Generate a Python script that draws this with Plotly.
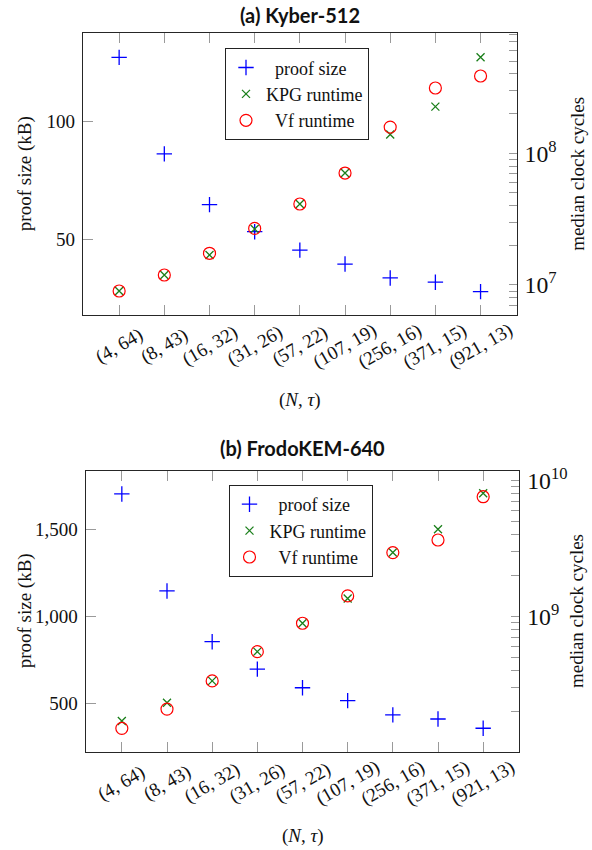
import plotly.graph_objects as go

# ---- data ----
categories = ["(4, 64)", "(8, 43)", "(16, 32)", "(31, 26)", "(57, 22)",
              "(107, 19)", "(256, 16)", "(371, 15)", "(921, 13)"]

kyber_proof_kb = [127.0, 86.1, 64.6, 53.1, 45.3, 39.4, 33.5, 31.7, 27.7]
kyber_kpg_cycles = [9.0e6, 1.19e7, 1.69e7, 2.66e7, 4.12e7, 7.08e7, 1.39e8, 2.26e8, 5.36e8]
kyber_vf_cycles = [9.0e6, 1.19e7, 1.74e7, 2.69e7, 4.12e7, 7.08e7, 1.58e8, 3.13e8, 3.86e8]

frodo_proof_kb = [1704, 1146, 854, 696, 589, 515, 433, 409, 356]
frodo_kpg_cycles = [1.71e8, 2.33e8, 3.37e8, 5.53e8, 8.94e8, 1.36e9, 2.96e9, 4.39e9, 8.07e9]
frodo_vf_cycles = [1.51e8, 2.09e8, 3.37e8, 5.53e8, 8.94e8, 1.42e9, 2.96e9, 3.66e9, 7.62e9]

panel_titles = ["<b>(a) Kyber-512</b>", "<b>(b) FrodoKEM-640</b>"]
left_title = "proof size (kB)"
right_title = "median clock cycles"
x_title = "(<i>N</i>, <i>τ</i>)"
legend_names = ["\u00a0\u00a0proof size", "KPG runtime", "\u00a0\u00a0Vf runtime"]

# ---- style ----
W, H = 592, 850
SERIF = "Liberation Serif"
SANS = "Lato"
FS = 19
BLUE, GREEN, RED = "#0000ff", "#1b7f1b", "#ff0000"
AXIS_C, TICK_C = "#262626", "#9a9a9a"
TXT = "#111111"


def px_x(v):
    return v / W


def px_y(v):
    return 1 - v / H


panels = [
    dict(xd=[px_x(83), px_x(516.7)], yd=[px_y(315), px_y(33.3)],
         yrange=[17.8, 137.2], ytickvals=[50, 100], yfmt="d",
         y2range=[6.772, 8.911],
         proof=kyber_proof_kb, kpg=kyber_kpg_cycles, vf=kyber_vf_cycles,
         title_y=15, ticklab_y=346, xtitle_y=400,
         legend=dict(x=px_x(225), y=px_y(48.3))),
    dict(xd=[px_x(85.7), px_x(519.3)], yd=[px_y(751.7), px_y(471)],
         yrange=[221, 1836], ytickvals=[500, 1000, 1500], yfmt=",d",
         y2range=[8.007, 10.071],
         proof=frodo_proof_kb, kpg=frodo_kpg_cycles, vf=frodo_vf_cycles,
         title_y=447.5, ticklab_y=783, xtitle_y=836,
         legend=dict(x=px_x(228.5), y=px_y(485))),
]

fig = go.Figure()
annotations = []
layout = {}

for i, p in enumerate(panels):
    xa = "x" if i == 0 else f"x{2*i+1}"
    ya = "y" if i == 0 else f"y{2*i+1}"
    ya2 = f"y{2*i+2}"
    lg = "legend" if i == 0 else "legend2"

    fig.add_trace(go.Scatter(
        x=categories, y=p["proof"], mode="markers", name=legend_names[0],
        marker=dict(symbol="cross-thin-open", size=11, color=BLUE,
                    line=dict(color=BLUE, width=1.3)),
        xaxis=xa, yaxis=ya, legend=lg))
    fig.add_trace(go.Scatter(
        x=categories, y=p["kpg"], mode="markers", name=legend_names[1],
        marker=dict(symbol="x-thin-open", size=8, color=GREEN,
                    line=dict(color=GREEN, width=1.3)),
        xaxis=xa, yaxis=ya2, legend=lg))
    fig.add_trace(go.Scatter(
        x=categories, y=p["vf"], mode="markers", name=legend_names[2],
        marker=dict(symbol="circle-open", size=12, color=RED,
                    line=dict(color=RED, width=1.2)),
        xaxis=xa, yaxis=ya2, legend=lg))

    xkey = "xaxis" if i == 0 else f"xaxis{2*i+1}"
    ykey = "yaxis" if i == 0 else f"yaxis{2*i+1}"
    y2key = f"yaxis{2*i+2}"

    layout[xkey] = dict(
        domain=p["xd"], anchor=ya, type="category",
        categoryorder="array", categoryarray=categories,
        range=[-0.8, len(categories) - 0.2],
        showline=True, linecolor=AXIS_C, linewidth=1.2, mirror="ticks",
        ticks="inside", ticklen=10, tickcolor=TICK_C, tickwidth=1,
        showticklabels=False, showgrid=False, zeroline=False,
        automargin=False)
    layout[ykey] = dict(
        domain=p["yd"], anchor=xa, range=p["yrange"],
        tickmode="array", tickvals=p["ytickvals"], tickformat=p["yfmt"],
        showline=True, linecolor=AXIS_C, linewidth=1.2, mirror=False,
        ticks="inside", ticklen=10, tickcolor=TICK_C, tickwidth=1,
        showgrid=False, zeroline=False, automargin=False,
        tickfont=dict(family=SERIF, size=FS, color=TXT),
        ticklabelstandoff=3)
    layout[y2key] = dict(
        domain=p["yd"], anchor=xa, overlaying=ya, side="right",
        type="log", range=p["y2range"], dtick=1,
        exponentformat="power", showexponent="all",
        showline=True, linecolor=AXIS_C, linewidth=1.2,
        ticks="inside", ticklen=8, tickcolor=TICK_C, tickwidth=1,
        minor=dict(ticks="inside", ticklen=8, tickcolor=TICK_C, dtick="D1",
                   showgrid=False),
        showgrid=False, zeroline=False, automargin=False,
        tickfont=dict(family=SERIF, size=FS, color=TXT),
        ticklabelstandoff=3)

    layout[lg] = dict(
        x=p["legend"]["x"], y=p["legend"]["y"], xanchor="left", yanchor="top",
        bgcolor="white", bordercolor="#222", borderwidth=1,
        font=dict(family=SERIF, size=18, color=TXT),
        itemwidth=30, tracegroupgap=0)

    # panel title
    annotations.append(dict(
        text=panel_titles[i], xref="paper", yref="paper",
        x=(p["xd"][0] + p["xd"][1]) / 2, y=px_y(p["title_y"]),
        xanchor="center", yanchor="middle", showarrow=False,
        font=dict(family=SANS, size=20, color=TXT)))
    # rotated category tick labels
    for k, c in enumerate(categories):
        annotations.append(dict(
            text=c, xref=xa, yref="paper", x=k, y=px_y(p["ticklab_y"]),
            xanchor="center", yanchor="middle", textangle=-30,
            showarrow=False, font=dict(family=SERIF, size=FS, color=TXT)))
    # x title
    annotations.append(dict(
        text=x_title, xref="paper", yref="paper",
        x=(p["xd"][0] + p["xd"][1]) / 2, y=px_y(p["xtitle_y"]),
        xanchor="center", yanchor="middle", showarrow=False,
        font=dict(family=SERIF, size=FS, color=TXT)))
    # y titles
    ymid = (p["yd"][0] + p["yd"][1]) / 2
    annotations.append(dict(
        text=left_title, xref="paper", yref="paper", x=px_x(25), y=ymid,
        xanchor="center", yanchor="middle", textangle=-90, showarrow=False,
        font=dict(family=SERIF, size=FS, color=TXT)))
    annotations.append(dict(
        text=right_title, xref="paper", yref="paper", x=px_x(576.7), y=ymid,
        xanchor="center", yanchor="middle", textangle=-90, showarrow=False,
        font=dict(family=SERIF, size=FS, color=TXT)))

fig.update_layout(
    width=W, height=H, margin=dict(l=0, r=0, t=0, b=0),
    paper_bgcolor="white", plot_bgcolor="white",
    showlegend=True, annotations=annotations,
    font=dict(family=SERIF, size=FS, color=TXT),
    **layout)

fig.write_html("out.html",
               config={"displayModeBar": False},
               post_script="document.body.style.margin='0';"
                           "document.body.style.overflow='hidden';")
